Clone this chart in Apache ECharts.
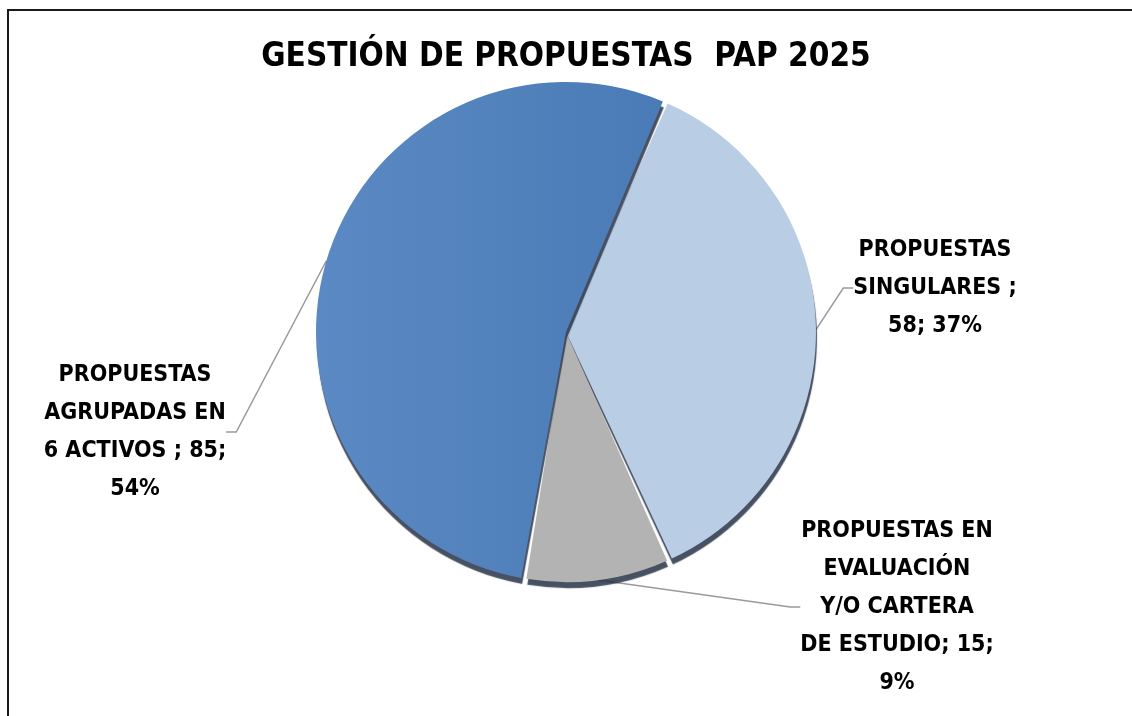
<!DOCTYPE html>
<html>
<head>
<meta charset="utf-8">
<script src="https://cdn.jsdelivr.net/npm/echarts@6/dist/echarts.min.js"></script>
<style>
  html, body { margin: 0; padding: 0; background: #fff; }
  #chart { width: 1132px; height: 716px; }
</style>
</head>
<body>
<div id="chart"></div>
<script>
// data
var categories = [
  'PROPUESTAS SINGULARES ',
  'PROPUESTAS EN EVALUACIÓN Y/O CARTERA DE ESTUDIO',
  'PROPUESTAS AGRUPADAS EN 6 ACTIVOS '
];
var values = [58, 15, 85];
var labelTexts = [
  'PROPUESTAS\nSINGULARES ;\n{c}; {d}%',
  'PROPUESTAS EN\nEVALUACIÓN\nY/O CARTERA\nDE ESTUDIO; {c};\n{d}%',
  'PROPUESTAS\nAGRUPADAS EN\n6 ACTIVOS ; {c};\n{d}%'
];
var colors = [
  '#B9CDE5',
  '#B3B3B3',
  new echarts.graphic.LinearGradient(0, 0, 1, 0, [
    { offset: 0, color: '#5A89C3' },
    { offset: 1, color: '#4B7BB6' }
  ])
];
// where each label block sits (center anchor)
var labelPos = [
  { x: 935, y: 288 },
  { x: 897, y: 607 },
  { x: 135, y: 432 }
];

var chart = echarts.init(document.getElementById('chart'));
var font = '"Liberation Sans Narrow", "DejaVu Sans Condensed", "Open Sans", sans-serif';

var option = {
  animation: false,
  title: {
    text: 'GESTIÓN DE PROPUESTAS  PAP 2025',
    left: 'center',
    top: 36,
    textStyle: { fontFamily: font, fontSize: 33, fontWeight: 'bold', color: '#000' }
  },
  graphic: [{
    type: 'rect',
    shape: { x: 8, y: 10, width: 1140, height: 720 },
    style: { fill: 'none', stroke: '#1a1a1a', lineWidth: 2 },
    silent: true
  }],
  series: [{
    type: 'pie',
    center: [566, 332],
    radius: [0, 250],
    startAngle: 66.6,
    clockwise: true,
    padAngle: 1.2,
    percentPrecision: 0,
    data: categories.map(function (c, i) {
      return {
        name: c,
        value: values[i],
        itemStyle: { color: colors[i] },
        label: { formatter: labelTexts[i] }
      };
    }),
    itemStyle: {
      borderWidth: 0,
      shadowColor: 'rgba(40,50,70,0.85)',
      shadowBlur: 1,
      shadowOffsetY: 6,
      shadowOffsetX: 1
    },
    label: {
      show: true,
      position: 'outside',
      fontFamily: font,
      fontSize: 23,
      fontWeight: 'bold',
      color: '#000',
      lineHeight: 38,
      align: 'center'
    },
    labelLine: {
      show: true,
      length: 10,
      length2: 10,
      lineStyle: { color: '#9a9a9a', width: 1.5 }
    },
    labelLayout: function (params) {
      var p = labelPos[params.dataIndex];
      return { x: p.x, y: p.y, align: 'center', verticalAlign: 'middle' };
    },
    emphasis: { disabled: true }
  }]
};
chart.setOption(option);
</script>
</body>
</html>
